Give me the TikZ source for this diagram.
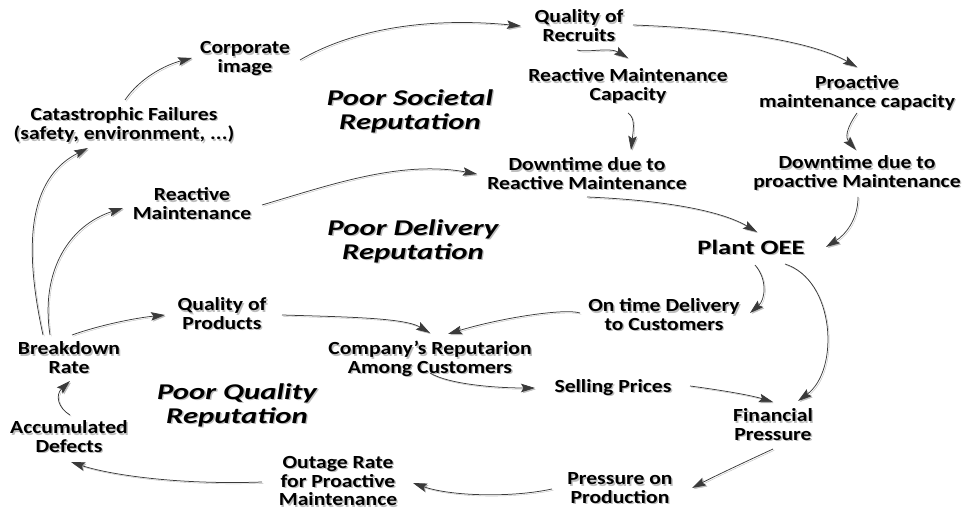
\documentclass[tikz,border=0pt]{standalone}
\usepackage{fontspec}
\usetikzlibrary{arrows.meta}
\newfontfamily\lblfont{Carlito}[FakeStretch=1.17]
\newfontfamily\oeefont{Carlito}[FakeStretch=1.3]
\newfontfamily\ttlfont{Carlito}[FakeStretch=1.37]
\definecolor{linecol}{HTML}{3A3A3A}
\definecolor{shadecol}{HTML}{BDBDBD}
% centred lines of text with a soft grey drop shadow behind them,
% set a little below the node centre
\newcommand\lines[1]{\begin{tabular}{@{}c@{}}#1\end{tabular}}
\newcommand\shadowed[1]{\raisebox{-3pt}[\height][\depth]{%
  \makebox[0pt][l]{\hspace{1.4pt}\raisebox{-1.4pt}{\color{shadecol}\lines{#1}}}%
  \lines{#1}}}
\tikzset{
  txt/.style={font=\lblfont\bfseries\fontsize{18.5}{18.6}\selectfont, inner sep=0pt},
  big/.style={font=\oeefont\bfseries\fontsize{20.5}{20.5}\selectfont},
  loopname/.style={font=\ttlfont\bfseries\itshape\fontsize{22.5}{24}\selectfont},
  arr/.style={draw=linecol, line width=0.75pt,
    -{Stealth[length=14pt,width=8.5pt,inset=2.5pt]},
    preaction={draw=shadecol, transform canvas={shift={(1.3pt,-1.3pt)}}}}
}
% [style] {name} {x,y} {text}
\newcommand\lab[4][]{\node[txt,#1] (#2) at (#3) {\shadowed{#4}};}
\begin{document}
\begin{tikzpicture}[x=1pt,y=-1pt]
\useasboundingbox (0,0) rectangle (964,510);

% variables
\lab{qr}{579,26}{Quality of\\Recruits}
\lab{ci}{245,57}{Corporate\\image}
\lab{rmc}{628,85}{Reactive Maintenance\\Capacity}
\lab{pmc}{857,92}{Proactive\\maintenance capacity}
\lab{cf}{124,124}{Catastrophic Failures\\(safety, environment, ...)}
\lab{drm}{587,174}{Downtime due to\\Reactive Maintenance}
\lab{dpm}{857,172}{Downtime due to\\proactive Maintenance}
\lab{rm}{192,204}{Reactive\\Maintenance}
\lab[big]{oee}{751,248}{Plant OEE}
\lab{qp}{222,314}{Quality of\\Products}
\lab{otd}{664,315}{On time Delivery\\to Customers}
\lab{br}{69,358}{Breakdown\\Rate}
\lab{crc}{430,358}{Company’s Reputarion\\Among Customers}
\lab{sp}{613,386}{Selling Prices}
\lab{ad}{69,437}{Accumulated\\Defects}
\lab{fp}{773,425}{Financial\\Pressure}
\lab{orp}{338,481}{Outage Rate\\for Proactive\\Maintenance}
\lab{pop}{620,488}{Pressure on\\Production}

% loop names
\lab[loopname]{soc}{410,110}{Poor Societal\\Reputation}
\lab[loopname]{del}{413,240}{Poor Delivery\\Reputation}
\lab[loopname]{qua}{237,404}{Poor Quality\\Reputation}

% causal links
\draw[arr] ([shift={(55,3)}]ci.center) .. controls (360,25) and (440,18) .. ([shift={(-58,0)}]qr.center);
\draw[arr] ([shift={(-2,24)}]qr.center) .. controls (585,53) and (610,47) .. ([shift={(0,-27)}]rmc.center);
\draw[arr] ([shift={(54,-1)}]qr.center) .. controls (720,28) and (810,40) .. ([shift={(0,-25)}]pmc.center);
\draw[arr] ([shift={(0,28)}]rmc.center) .. controls (636,118) and (633,132) .. ([shift={(44,-24)}]drm.center);
\draw[arr] ([shift={(0,21)}]pmc.center) .. controls (852,120) and (843,135) .. ([shift={(-1,-22)}]dpm.center);
\draw[arr] ([shift={(0,23)}]drm.center) .. controls (660,200) and (720,210) .. ([shift={(6,-16)}]oee.center);
\draw[arr] ([shift={(1,25)}]dpm.center) .. controls (858,220) and (845,235) .. ([shift={(75,-1)}]oee.center);
\draw[arr] ([shift={(70,1)}]rm.center) .. controls (330,185) and (400,160) .. ([shift={(-110,0)}]drm.center);
\draw[arr] ([shift={(1,-24)}]cf.center) .. controls (140,78) and (165,65) .. ([shift={(-53,1)}]ci.center);
\draw[arr] ([shift={(-26,-23)}]br.center) .. controls (20,230) and (35,175) .. ([shift={(-36,24)}]cf.center);
\draw[arr] ([shift={(-19,-23)}]br.center) .. controls (40,270) and (70,225) .. ([shift={(-69,4)}]rm.center);
\draw[arr] ([shift={(3,-23)}]br.center) .. controls (100,325) and (135,318) .. ([shift={(-57,1)}]qp.center);
\draw[arr] ([shift={(60,1)}]qp.center) .. controls (350,317) and (405,318) .. ([shift={(0,-25)}]crc.center);
\draw[arr] ([shift={(-84,-2)}]otd.center) .. controls (565,308) and (500,318) .. ([shift={(18,-24)}]crc.center);
\draw[arr] ([shift={(4,17)}]oee.center) .. controls (768,280) and (765,300) .. ([shift={(86,-2)}]otd.center);
\draw[arr] ([shift={(34,16)}]oee.center) .. controls (835,280) and (840,370) .. ([shift={(25,-24)}]fp.center);
\draw[arr] ([shift={(0,15)}]crc.center) .. controls (450,385) and (500,388) .. ([shift={(-78,2)}]sp.center);
\draw[arr] ([shift={(77,0)}]sp.center) .. controls (720,390) and (750,395) .. ([shift={(0,-23)}]fp.center);
\draw[arr] ([shift={(0,24)}]fp.center) .. controls (745,462) and (715,476) .. ([shift={(72,0)}]pop.center);
\draw[arr] ([shift={(-68,1)}]pop.center) .. controls (510,498) and (450,496) .. ([shift={(75,2)}]orp.center);
\draw[arr] ([shift={(-76,1)}]orp.center) .. controls (180,485) and (110,475) .. ([shift={(2,25)}]ad.center);
\draw[arr] ([shift={(1,-22)}]ad.center) .. controls (58,408) and (55,395) .. ([shift={(1,23)}]br.center);
\end{tikzpicture}
\end{document}
